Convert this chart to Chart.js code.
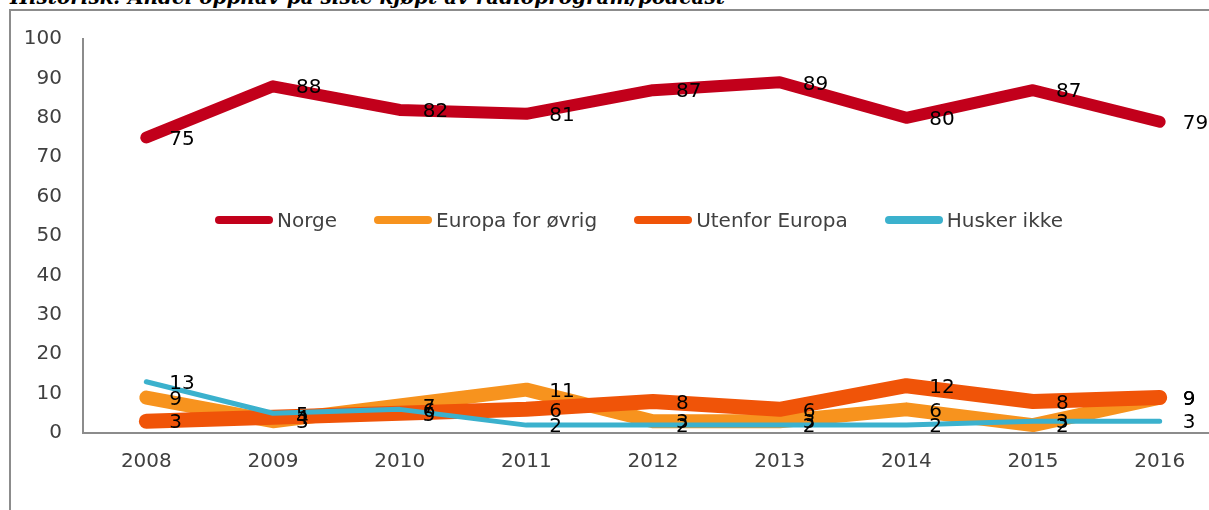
<!DOCTYPE html>
<html>
<head>
<meta charset="utf-8">
<script src="https://cdn.jsdelivr.net/npm/chart.js@4"></script>
<style>
  html, body { margin: 0; padding: 0; background: #fff; overflow: hidden; width: 1209px; height: 510px; }
  #wrap { position: relative; width: 1209px; height: 510px; overflow: hidden; }
  #title {
    position: absolute; left: 10px; top: -15px;
    font: bold italic 20px "DejaVu Serif", serif; color: #000; white-space: nowrap;
  }
  #frame {
    position: absolute; left: 9px; top: 9px; width: 1250px; height: 560px;
    border-left: 2px solid #8c8c8c; border-top: 2px solid #8c8c8c;
  }
  #box { position: absolute; left: 0; top: 0; width: 1209px; height: 510px; overflow: hidden; }
  #legend {
    position: absolute; left: 215px; top: 208px; display: flex; gap: 37px;
    font: 20px "DejaVu Sans", sans-serif; color: #404040;
  }
  .item { display: flex; align-items: center; }
  .swatch { width: 58px; height: 8px; border-radius: 4px; margin-right: 4px; }
</style>
</head>
<body>
<div id="wrap">
  <div id="title">Historisk: Andel opphav på siste kjøpt av radioprogram/podcast</div>
  <div id="frame"></div>
  <div id="box"><canvas id="myChart" width="1240" height="510"></canvas></div>
  <div id="legend"></div>
</div>
<script>
const years = ['2008', '2009', '2010', '2011', '2012', '2013', '2014', '2015', '2016'];
const seriesNames = ['Norge', 'Europa for øvrig', 'Utenfor Europa', 'Husker ikke'];
const norge = [75, 88, 82, 81, 87, 89, 80, 87, 79];
const europa = [9, 3, 7, 11, 3, 3, 6, 2, 9];
const utenfor = [3, 4, 5, 6, 8, 6, 12, 8, 9];
const husker = [13, 5, 6, 2, 2, 2, 2, 3, 3];
const yTicks = [0, 10, 20, 30, 40, 50, 60, 70, 80, 90, 100];

const colors = ['#c2001b', '#f7931e', '#f05408', '#3bb1cd'];
const widths = [12, 14, 15, 5];
const allData = [norge, europa, utenfor, husker];

// legend sits inside the plot, so build it as html
const legendEl = document.getElementById('legend');
seriesNames.forEach((name, i) => {
  const item = document.createElement('div');
  item.className = 'item';
  item.innerHTML = '<div class="swatch" style="background:' + colors[i] + '"></div><span>' + name + '</span>';
  legendEl.appendChild(item);
});

const valueLabels = {
  id: 'valueLabels',
  afterDatasetsDraw(chart) {
    const c = chart.ctx;
    c.save();
    c.font = '20px "DejaVu Sans", sans-serif';
    c.fillStyle = '#000';
    c.textAlign = 'left';
    c.textBaseline = 'middle';
    chart.data.datasets.forEach((ds, i) => {
      const meta = chart.getDatasetMeta(i);
      meta.data.forEach((pt, j) => {
        c.fillText(String(ds.data[j]), pt.x + 23, pt.y + 2);
      });
    });
    c.restore();
  }
};

const ctx = document.getElementById('myChart').getContext('2d');
const chartInstance = new Chart(ctx, {
  type: 'line',
  data: {
    labels: years,
    datasets: seriesNames.map((name, i) => ({
      label: name,
      data: allData[i],
      borderColor: colors[i],
      backgroundColor: colors[i],
      borderWidth: widths[i],
      borderCapStyle: 'round',
      borderJoinStyle: 'round',
      pointRadius: 0,
      tension: 0,
      order: seriesNames.length - i
    }))
  },
  options: {
    responsive: false,
    animation: false,
    layout: { padding: { top: 39, right: 17, left: 0, bottom: 0 } },
    plugins: { legend: { display: false }, tooltip: { enabled: false } },
    scales: {
      x: {
        offset: true,
        grid: { display: true, drawOnChartArea: false, drawTicks: false, color: 'transparent' },
        border: { display: true, color: '#8c8c8c', width: 2 },
        ticks: { color: '#404040', font: { family: 'DejaVu Sans', size: 20 }, padding: 17 },
        afterFit(scale) { scale.height = 77; }
      },
      y: {
        min: 0,
        max: 100,
        afterBuildTicks(scale) { scale.ticks = yTicks.map(v => ({ value: v })); },
        grid: { display: true, drawOnChartArea: false, drawTicks: false, color: 'transparent' },
        border: { display: true, color: '#8c8c8c', width: 2 },
        ticks: { color: '#404040', font: { family: 'DejaVu Sans', size: 20 }, padding: 21 },
        afterFit(scale) { scale.width = 83; }
      }
    }
  },
  plugins: [valueLabels]
});
</script>
</body>
</html>
